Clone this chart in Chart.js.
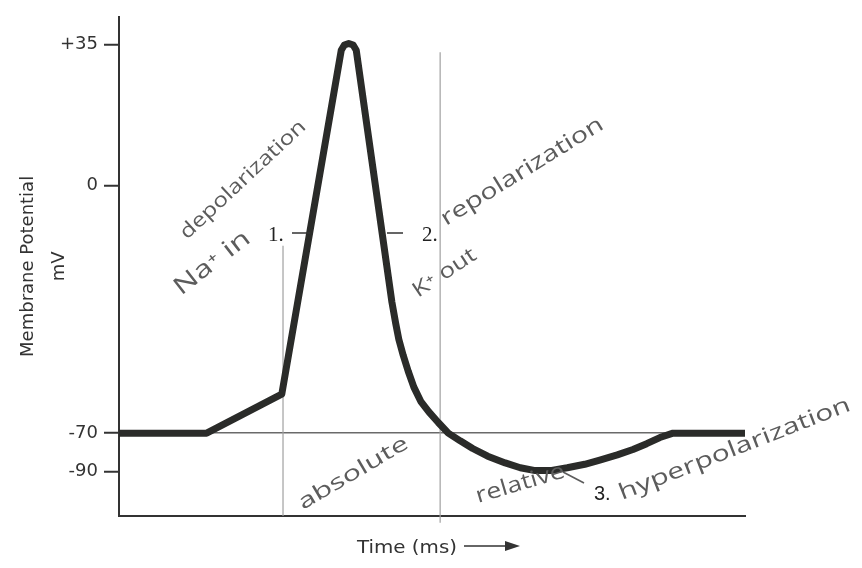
<!DOCTYPE html>
<html>
<head>
<meta charset="utf-8">
<script src="https://cdn.jsdelivr.net/npm/chart.js@4.4.1/dist/chart.umd.min.js"></script>
<style>
  html, body { margin: 0; padding: 0; background: #fff; }
</style>
</head>
<body>
<canvas id="apChart" width="862" height="568"></canvas>
<script>
// action potential (time in ms, potential in mV)
const timeMs = [0, 1.4, 2.6, 3.55, 3.6, 3.67, 3.74, 3.79, 4.36, 4.42,
  4.47, 4.54, 4.62, 4.71, 4.82, 4.95, 5.1, 5.26, 5.45, 5.65,
  5.89, 6.17, 6.41, 6.65, 6.89, 7.16, 7.44, 7.68, 7.96, 8.21,
  8.43, 8.64, 8.85, 10];
const potentialMv = [-70, -70, -59, 33.5, 34.8, 35.2, 34.8, 33.5, -33, -39,
  -43.5, -48, -52.5, -57, -61, -64, -67, -70, -74, -78,
  -82, -85.5, -88, -89.5, -89.5, -88, -86.2, -84, -81.3, -78.5,
  -75.5, -72.3, -70, -70];

const yTickValues = [35, 0, -70, -90];
const restingMv = -70;

// refractory period markers (thin vertical pencil lines)
const refractoryMs = [2.62, 5.13];
const refractoryTopMv = [-17, 33];
const refractoryBottomMv = [-113, -116.5];

// the printed y axis is not evenly spaced, so map value -> fraction piecewise
class BrokenLinearScale extends Chart.LinearScale {
  static id = 'brokenLinear';
  static defaults = {};
  _frac(v) {
    const k = this.options.knots;
    if (v <= k[0][0]) return k[0][1] + (v - k[0][0]) / (k[1][0] - k[0][0]) * (k[1][1] - k[0][1]);
    for (let i = 1; i < k.length; i++) {
      if (v <= k[i][0]) {
        const [v0, f0] = k[i - 1], [v1, f1] = k[i];
        return f0 + (v - v0) / (v1 - v0) * (f1 - f0);
      }
    }
    const n = k.length - 1;
    return k[n][1] + (v - k[n][0]) / (k[n][0] - k[n - 1][0]) * (k[n][1] - k[n - 1][1]);
  }
  getPixelForValue(v) {
    return v == null ? NaN : this.getPixelForDecimal(this._frac(v));
  }
  getValueForPixel(p) {
    const f = this.getDecimalForPixel(p);
    const k = this.options.knots;
    for (let i = 1; i < k.length; i++) {
      if (f <= k[i][1]) {
        const [v0, f0] = k[i - 1], [v1, f1] = k[i];
        return v0 + (f - f0) / (f1 - f0) * (v1 - v0);
      }
    }
    return k[k.length - 1][0];
  }
}
Chart.register(BrokenLinearScale);

Chart.defaults.font.family = '"DejaVu Sans", sans-serif';
Chart.defaults.color = '#333';

const ink = '#5c5c5c';

// text along a baseline from (x0,y0) to (x1,y1), squeezed/stretched to fit
function hand(ctx, text, x0, y0, x1, y1, size, font) {
  const len = Math.hypot(x1 - x0, y1 - y0);
  ctx.save();
  ctx.translate(x0, y0);
  ctx.rotate(Math.atan2(y1 - y0, x1 - x0));
  ctx.font = size + 'px ' + (font || '"Open Sans", sans-serif');
  const w = ctx.measureText(text).width;
  ctx.scale(len / w, 1);
  ctx.textBaseline = 'alphabetic';
  ctx.textAlign = 'left';
  ctx.fillText(text, 0, 0);
  ctx.restore();
}

const notes = {
  id: 'notes',
  afterDraw(chart) {
    const ctx = chart.ctx;
    ctx.save();
    // typed labels
    ctx.fillStyle = '#222';
    ctx.strokeStyle = '#333';
    ctx.lineWidth = 1.6;
    ctx.font = '21px "Liberation Serif", serif';
    ctx.textBaseline = 'alphabetic';
    ctx.fillText('1.', 268, 241);
    ctx.fillText('2.', 422, 241);
    ctx.beginPath();
    ctx.moveTo(292, 233); ctx.lineTo(310, 233);
    ctx.moveTo(387, 233); ctx.lineTo(403, 233);
    ctx.stroke();
    ctx.font = '20px "Liberation Sans", sans-serif';
    ctx.fillText('3.', 594, 500);

    // x axis title with arrow
    ctx.fillStyle = '#333';
    hand(ctx, 'Time (ms)', 357, 553, 457, 553, 18, '"DejaVu Sans", sans-serif');
    ctx.beginPath();
    ctx.lineWidth = 1.5;
    ctx.moveTo(464, 546); ctx.lineTo(508, 546);
    ctx.stroke();
    ctx.beginPath();
    ctx.moveTo(505, 541); ctx.lineTo(520, 546); ctx.lineTo(505, 551);
    ctx.closePath();
    ctx.fill();

    // pencil notes
    ctx.fillStyle = ink;
    ctx.strokeStyle = ink;
    hand(ctx, 'depolarization', 187, 240, 307, 128, 20);
    hand(ctx, 'Na\u207A in', 181, 296, 252, 241, 24);
    hand(ctx, 'repolarization', 446, 226, 605, 128, 22);
    hand(ctx, 'K\u207A out', 418, 298, 478, 258, 21);
    hand(ctx, 'absolute', 303, 510, 410, 447, 21);
    hand(ctx, 'relative', 478, 503, 566, 477, 22);
    hand(ctx, 'hyperpolarization', 622, 500, 852, 410, 22);
    ctx.lineWidth = 1.6;
    ctx.beginPath();
    ctx.moveTo(563, 472); ctx.lineTo(584, 483);
    ctx.stroke();
    ctx.restore();
  }
};

const pts = timeMs.map((t, i) => ({ x: t, y: potentialMv[i] }));
const markerSets = refractoryMs.map((t, i) => ({
  data: [{ x: t, y: refractoryTopMv[i] }, { x: t, y: refractoryBottomMv[i] }],
  borderColor: '#a0a0a0',
  borderWidth: 1.2,
  pointRadius: 0,
  clip: false
}));

new Chart(document.getElementById('apChart'), {
  type: 'line',
  data: {
    datasets: [{
      data: pts,
      borderColor: '#2a2b29',
      borderWidth: 7,
      pointRadius: 0,
      tension: 0,
      borderJoinStyle: 'round',
      borderCapStyle: 'butt'
    }, ...markerSets]
  },
  options: {
    responsive: false,
    animation: false,
    layout: { padding: { left: 0, top: 10, right: 117, bottom: 0 } },
    plugins: { legend: { display: false }, tooltip: { enabled: false } },
    scales: {
      x: {
        type: 'linear',
        min: 0,
        max: 10,
        ticks: { display: false },
        grid: { display: false, drawTicks: false },
        border: { display: true, color: '#333', width: 2 },
        afterFit(scale) { scale.height = 52; }
      },
      y: {
        type: 'brokenLinear',
        min: -113,
        max: 42,
        knots: [[-113, 0], [-90, 0.089], [-70, 0.166], [0, 0.662], [35, 0.945], [42, 1]],
        afterBuildTicks(scale) { scale.ticks = yTickValues.map(v => ({ value: v })); },
        ticks: {
          autoSkip: false,
          padding: 6,
          color: '#333',
          font: { size: 18 },
          callback: v => (v > 0 ? '+' + v : String(v))
        },
        grid: {
          drawOnChartArea: true,
          tickLength: 15,
          tickColor: '#333',
          tickWidth: 2,
          color: c => (c.tick && c.tick.value === restingMv ? '#6a6a6a' : 'rgba(0,0,0,0)'),
          lineWidth: 1.5
        },
        border: { display: true, color: '#333', width: 2 },
        title: {
          display: true,
          text: ['Membrane Potential', 'mV'],
          color: '#333',
          font: { size: 18, lineHeight: 1.72 },
          padding: { top: 13, bottom: 0 }
        },
        afterFit(scale) { scale.width = 119; }
      }
    }
  },
  plugins: [notes]
});
</script>
</body>
</html>
